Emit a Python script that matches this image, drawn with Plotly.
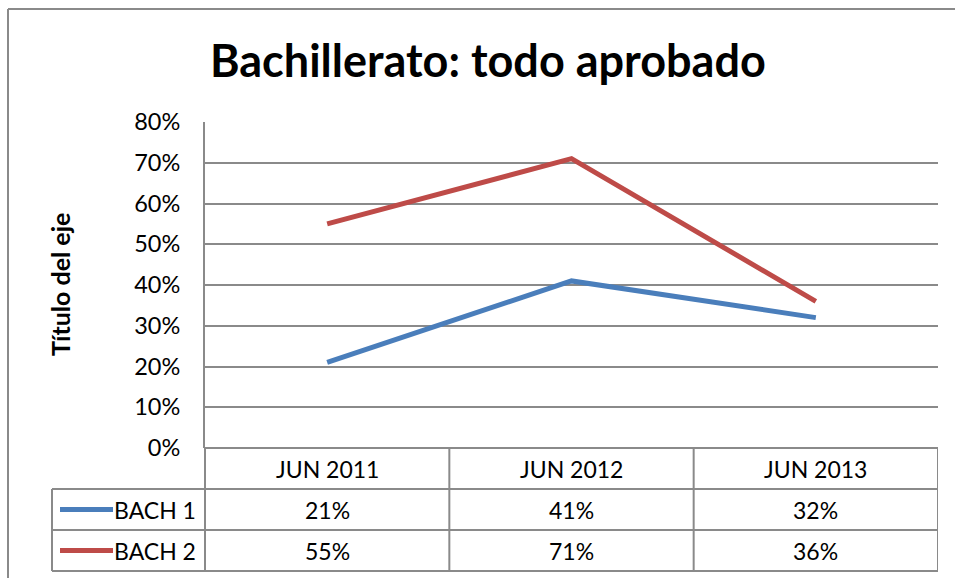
import plotly.graph_objects as go

categories = ["JUN 2011", "JUN 2012", "JUN 2013"]
series_names = ["BACH 1", "BACH 2"]
bach1 = [0.21, 0.41, 0.32]
bach2 = [0.55, 0.71, 0.36]
y_ticks = [0, 0.1, 0.2, 0.3, 0.4, 0.5, 0.6, 0.7, 0.8]
title_text = "Bachillerato: todo aprobado"
y_title = "Título del eje"

W, H = 955, 578
colors = ["#4A7EBB", "#BE4B48"]
grid = "#8A8A8A"
FONT = "Lato"
FS = 23

def px(x):
    return x / W

def py(y):
    return 1 - y / H

x_idx = list(range(len(categories)))
fig = go.Figure()
for name, vals, c in zip(series_names, [bach1, bach2], colors):
    fig.add_trace(go.Scatter(x=x_idx, y=vals, mode="lines", name=name,
                             line=dict(color=c, width=5), showlegend=False,
                             hoverinfo="skip"))

x0, x1 = 205, 938
ytop, ybot = 122, 448
rows = [448, 489, 530, 571]
leg_left = 52

fig.update_layout(
    width=W, height=H, margin=dict(l=0, r=0, t=0, b=0, pad=0, autoexpand=False),
    autosize=False, showlegend=False,
    paper_bgcolor="white", plot_bgcolor="white",
    font=dict(family=FONT, color="black"),
    xaxis=dict(domain=[px(x0), px(x1)], range=[-0.5, len(categories) - 0.5],
               showticklabels=False, showgrid=False, zeroline=False,
               showline=False, fixedrange=True, automargin=False),
    yaxis=dict(domain=[py(ybot), py(ytop)], range=[0, 0.8],
               tickvals=y_ticks, tickformat=".0%", showgrid=True,
               gridcolor=grid, gridwidth=2, zeroline=False,
               showline=True, linecolor=grid, linewidth=2,
               ticks="", ticklabelstandoff=18, automargin=False,
               fixedrange=True,
               tickfont=dict(size=FS + 0.5, family=FONT)),
)

shapes = []
# outer chart border
shapes.append(dict(type="line", xref="paper", yref="paper", x0=px(8), x1=1.01,
                   y0=py(9), y1=py(9), line=dict(color=grid, width=2)))
shapes.append(dict(type="line", xref="paper", yref="paper", x0=px(8), x1=px(8),
                   y0=py(9), y1=-0.01, line=dict(color=grid, width=2)))
# y axis line extends through table
shapes.append(dict(type="line", xref="paper", yref="paper", x0=px(x0), x1=px(x0),
                   y0=py(ybot), y1=py(rows[-1]), line=dict(color=grid, width=2)))
# table horizontal lines
for i, r in enumerate(rows):
    left = x0 if i == 0 else leg_left
    shapes.append(dict(type="line", xref="paper", yref="paper", x0=px(left), x1=px(x1),
                       y0=py(r), y1=py(r), line=dict(color=grid, width=2)))
# table vertical lines between columns
for k in range(len(categories)):
    shapes.append(dict(type="line", xref="x", yref="paper", x0=k + 0.5, x1=k + 0.5,
                       y0=py(rows[0]), y1=py(rows[-1]), line=dict(color=grid, width=2)))
shapes.append(dict(type="line", xref="paper", yref="paper", x0=px(leg_left), x1=px(leg_left),
                   y0=py(rows[1]), y1=py(rows[-1]), line=dict(color=grid, width=2)))
# legend keys
for i, c in enumerate(colors):
    ym = (rows[i + 1] + rows[i + 2]) / 2
    shapes.append(dict(type="line", xref="paper", yref="paper", x0=px(60), x1=px(113),
                       y0=py(ym), y1=py(ym), line=dict(color=c, width=5)))

annotations = []
annotations.append(dict(text="<b>" + title_text + "</b>", xref="paper", yref="paper",
                        x=px(488), y=py(60), showarrow=False,
                        font=dict(size=45, family=FONT, color="black"),
                        xanchor="center", yanchor="middle"))
annotations.append(dict(text="<b>" + y_title + "</b>", xref="paper", yref="paper",
                        x=px(60), y=py(285), showarrow=False, textangle=-90,
                        font=dict(size=25, family=FONT, color="black"),
                        xanchor="center", yanchor="middle"))
hdr_y = (rows[0] + rows[1]) / 2
for k, cat in enumerate(categories):
    annotations.append(dict(text=cat, xref="x", yref="paper", x=k, y=py(hdr_y),
                            showarrow=False, font=dict(size=FS, family=FONT),
                            xanchor="center", yanchor="middle"))
for i, (name, vals) in enumerate(zip(series_names, [bach1, bach2])):
    ym = (rows[i + 1] + rows[i + 2]) / 2
    annotations.append(dict(text=name, xref="paper", yref="paper", x=px(198), y=py(ym),
                            showarrow=False, font=dict(size=FS, family=FONT),
                            xanchor="right", yanchor="middle"))
    for k, v in enumerate(vals):
        annotations.append(dict(text=f"{round(v * 100)}%", xref="x", yref="paper", x=k,
                                y=py(ym), showarrow=False, font=dict(size=FS, family=FONT),
                                xanchor="center", yanchor="middle"))

fig.update_layout(shapes=shapes, annotations=annotations)
fig.write_html("out.html",
               config={"displayModeBar": False, "staticPlot": True},
               post_script="document.body.style.margin='0';document.body.style.overflow='hidden';")
